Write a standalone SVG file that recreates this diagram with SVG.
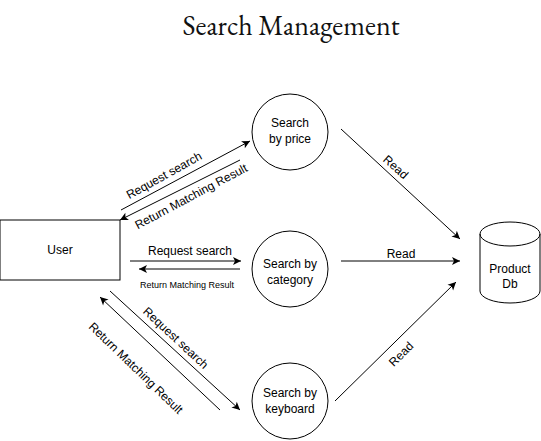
<svg xmlns="http://www.w3.org/2000/svg" width="541" height="441" viewBox="0 0 541 441">
<defs>
<marker id="arr" markerWidth="10" markerHeight="10" refX="9" refY="5" orient="auto" markerUnits="userSpaceOnUse">
<path d="M1,1 L9,5 L1,9 L3,5 Z" fill="#000"/>
</marker>
<style>
.sh{fill:#fff;stroke:#000;stroke-width:1}
.t{font-family:"Liberation Sans",Arial,sans-serif;font-size:12px;fill:#000;text-anchor:middle}
.s{font-family:"Liberation Sans",Arial,sans-serif;font-size:9px;fill:#000;text-anchor:middle}
.c{stroke:#000;stroke-width:1;fill:none;marker-end:url(#arr)}
</style>
</defs>
<rect width="541" height="441" fill="#fff"/>
<text x="291" y="35" font-family="'EB Garamond','Liberation Serif',serif" font-size="28" text-anchor="middle" fill="#111">Search Management</text>
<g id="user"><rect class="sh" x="0" y="220" width="120" height="60"/><text class="t" x="60" y="254">User</text></g>
<g id="price"><circle class="sh" cx="290" cy="132" r="38"/><text class="t" x="290" y="127">Search</text><text class="t" x="290" y="143">by price</text></g>
<g id="category"><circle class="sh" cx="290" cy="269" r="38"/><text class="t" x="290" y="268">Search by</text><text class="t" x="290" y="284">category</text></g>
<g id="keyboard"><circle class="sh" cx="290" cy="401" r="38"/><text class="t" x="290" y="397">Search by</text><text class="t" x="290" y="413">keyboard</text></g>
<g id="db"><path class="sh" d="M480,234 A30,12 0 0 1 540,234 L540,291 A30,12 0 0 1 480,291 Z"/><path d="M480,234 A30,12 0 0 0 540,234" fill="none" stroke="#000"/><text class="t" x="510" y="273">Product</text><text class="t" x="510" y="288">Db</text></g>
<g id="connectors">
<line class="c" x1="121" y1="210" x2="250" y2="141"/>
<line class="c" x1="240" y1="160" x2="120" y2="220"/>
<line class="c" x1="130" y1="261" x2="241" y2="261"/>
<line class="c" x1="240" y1="269" x2="139" y2="269"/>
<line class="c" x1="110" y1="291" x2="240" y2="410"/>
<line class="c" x1="220" y1="410" x2="100" y2="297"/>
<line class="c" x1="341" y1="129" x2="460" y2="239"/>
<line class="c" x1="341" y1="261" x2="460" y2="261"/>
<line class="c" x1="335" y1="401" x2="456" y2="282"/>
<text class="t" transform="translate(166,179) rotate(-29)">Request search</text>
<text class="t" transform="translate(193,200) rotate(-28)">Return Matching Result</text>
<text class="t" x="190" y="255">Request search</text>
<text class="s" x="187" y="288">Return Matching Result</text>
<text class="t" transform="translate(173,341) rotate(43)">Request search</text>
<text class="t" transform="translate(133,371) rotate(44)">Return Matching Result</text>
<text class="t" transform="translate(393,170) rotate(42)">Read</text>
<text class="t" x="401" y="258">Read</text>
<text class="t" transform="translate(404,357) rotate(-45)">Read</text>
</g>
</svg>
